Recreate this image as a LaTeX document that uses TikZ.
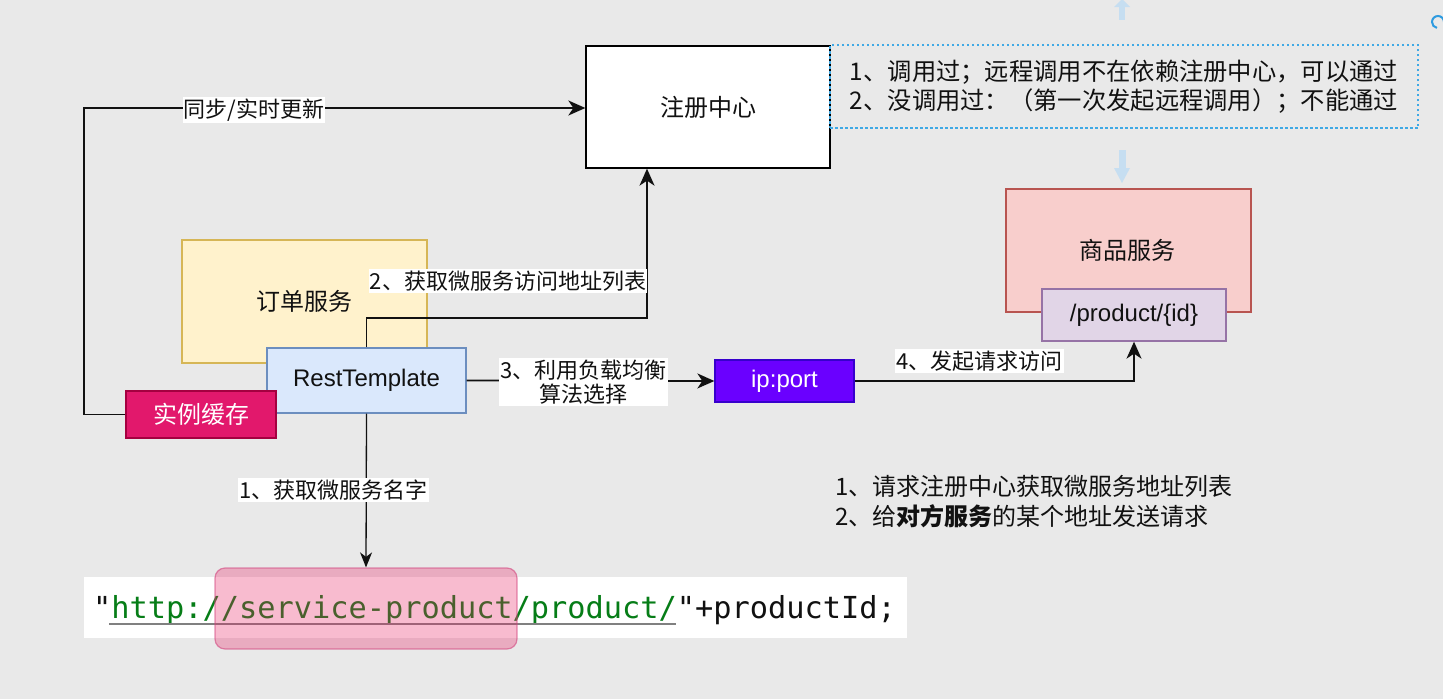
\documentclass[tikz,border=0pt]{standalone}
\usepackage{fontspec}
\setmainfont{Liberation Sans}
\newfontfamily\cjk{Noto Sans CJK SC}
\newfontfamily\codefont{DejaVu Sans Mono}
\usetikzlibrary{arrows.meta,calc}
\definecolor{bgc}{HTML}{E9E9E9}
\definecolor{ordfill}{HTML}{FFF2CC}
\definecolor{orddraw}{HTML}{D6B656}
\definecolor{rtfill}{HTML}{DAE8FC}
\definecolor{rtdraw}{HTML}{6C8EBF}
\definecolor{cachefill}{HTML}{E2186C}
\definecolor{cachedraw}{HTML}{A50040}
\definecolor{ipfill}{HTML}{6A00FF}
\definecolor{ipdraw}{HTML}{3700CC}
\definecolor{goodsfill}{HTML}{F8CECC}
\definecolor{goodsdraw}{HTML}{B85450}
\definecolor{prodfill}{HTML}{E1D5E7}
\definecolor{proddraw}{HTML}{9673A6}
\definecolor{notedraw}{HTML}{3FA9E5}
\definecolor{strc}{HTML}{067D17}
\definecolor{hlfill}{HTML}{E91E63}
\definecolor{hldraw}{HTML}{D2457E}
\definecolor{faint}{HTML}{C6DEF1}
\definecolor{iconc}{HTML}{2E9BE0}
\definecolor{txt}{HTML}{111111}
\newcommand\BigF{\fontsize{24}{29}\selectfont}
\newcommand\NoteF{\fontsize{24.3}{29}\selectfont}
\newcommand\MidF{\fontsize{22}{24}\selectfont}
\begin{document}
\begin{tikzpicture}[x=1pt,y=-1pt,
  box/.style={draw, line width=1.3pt, inner sep=0pt, text=txt},
  arr/.style={line width=1.7pt, draw=txt, -{Stealth[length=17pt,width=15pt,inset=5pt]}},
  thinarr/.style={line width=1.3pt, draw=txt, -{Stealth[length=15pt,width=12pt,inset=4.5pt]}},
  lbl/.style={fill=white, inner xsep=1pt, inner ysep=2pt, text=txt, font=\cjk\MidF, align=center},
  faintarrow/.style={fill=faint},
]
\useasboundingbox (0,0) rectangle (1443,699);
\fill[bgc] (0,0) rectangle (1443,699);

% faint UI arrows
\fill[faintarrow] (1119,6) rectangle (1125,20);
\fill[faintarrow] (1114,7) -- (1122,-1) -- (1130,7) -- cycle;
\fill[faintarrow] (1118.5,150) rectangle (1125.5,170);
\fill[faintarrow] (1114,168) -- (1130,168) -- (1122,183) -- cycle;
\draw[iconc, line width=2pt] (1444,22) arc[start angle=0, end angle=-260, radius=6];

% registry
\node[box, fill=white, minimum width=244pt, minimum height=122pt, font=\cjk\BigF] (reg) at (708,107) {注册中心};
% note
\node[draw=notedraw, line width=1.4pt, dash pattern=on 2.5pt off 2.5pt, minimum width=588pt, minimum height=83pt, inner sep=0pt, align=left, font=\cjk\NoteF, text=txt] (note) at (1124,86.5) {1、调用过；远程调用不在依赖注册中心，可以通过\\2、没调用过：（第一次发起远程调用）；不能通过};

% order service
\node[box, fill=ordfill, draw=orddraw, minimum width=245pt, minimum height=123pt, font=\cjk\BigF] (order) at (304.5,301.5) {订单服务};
\node[box, fill=rtfill, draw=rtdraw, minimum width=199pt, minimum height=65pt, font=\BigF] (rt) at (366.5,380.5) {RestTemplate};
\node[box, fill=cachefill, draw=cachedraw, minimum width=150pt, minimum height=47pt, font=\cjk\BigF, text=white] (cache) at (201,414.5) {实例缓存};

% ip:port
\node[box, fill=ipfill, draw=ipdraw, minimum width=139pt, minimum height=42pt, font=\BigF, text=white] (ip) at (784.5,381) {ip:port};

% goods service
\node[box, fill=goodsfill, draw=goodsdraw, minimum width=245pt, minimum height=123pt] (goods) at (1128.5,250.5) {};
\node[inner sep=0pt, font=\cjk\BigF, text=txt] (goodslbl) at (1127,250) {商品服务};
\node[box, fill=prodfill, draw=proddraw, minimum width=184pt, minimum height=52pt, font=\BigF] (prod) at (1134,315) {/product/\{id\}};

% code line
\node[fill=white, minimum width=823pt, minimum height=61pt, inner sep=0pt] (codebg) at (495.5,607.5) {};
\node[anchor=base west, inner sep=0pt, font=\codefont\fontsize{30.3}{34}\selectfont, text=txt] (code) at (93,618) {"\textcolor{strc}{http://service-product/product/}"+productId;};
\coordinate (ulA) at (109,624);
\coordinate (ulB) at (676,624);
\draw[gray, line width=1.3pt] (ulA) -- (ulB);
\node[draw=hldraw, draw opacity=0.6, fill=hlfill, fill opacity=0.3, rounded corners=10pt, minimum width=302pt, minimum height=81pt, line width=1.2pt] (hl) at (366,608.5) {};

% connectors
\coordinate (leftbot) at (84,414.5);
\coordinate (lefttop) at (84,108);
\draw[arr] (cache.west) -- (leftbot) -- (lefttop) -- (lefttop -| reg.west);
\node[lbl] (l0) at (254,110) {同步/实时更新};

\coordinate (c2) at (647,318);
\draw[arr] (rt.north) |- (c2) -- (c2 |- reg.south);
\node[lbl] (l2) at (508,281) {2、获取微服务访问地址列表};

\draw[arr] (rt.east) -- (ip.west);
\node[lbl] (l3) at (583.5,382) {3、利用负载均衡\\算法选择};

\draw[arr] (ip.east) -| (prod.south);
\node[lbl] (l4) at (979.5,361) {4、发起请求访问};

\draw[thinarr] (rt.south) -- (hl.north);
\node[lbl] (l1) at (333.5,490) {1、获取微服务名字};

% summary
\node[anchor=west, inner sep=0pt, align=left, font=\cjk\fontsize{24}{30}\selectfont, text=txt] (summary) at (835,502) {1、请求注册中心获取微服务地址列表\\2、给\textbf{对方服务}的某个地址发送请求};
\end{tikzpicture}
\end{document}
